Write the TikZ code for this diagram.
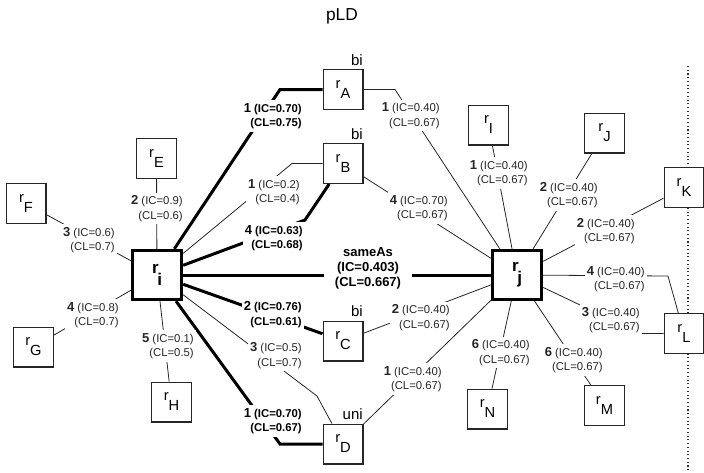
\documentclass[tikz,border=0pt]{standalone}
\usepackage{fontspec}
\setmainfont{Liberation Sans}
\pgfdeclarelayer{bg}
\pgfsetlayers{bg,main}

\tikzset{
  res/.style={draw=black!85, line width=1pt, fill=white, minimum size=29.75pt,
    inner sep=0pt, font=\fontsize{11}{12}\selectfont},
  hub/.style={draw=black, line width=2.25pt, fill=white, minimum size=37pt,
    inner sep=0pt, font=\bfseries\fontsize{12.75}{14}\selectfont},
  lab/.style={fill=white, align=right, anchor=east, inner xsep=1.5pt, inner ysep=2pt,
    font=\fontsize{8.5}{10.9}\selectfont, text=black!85},
  labb/.style={lab, font=\bfseries\fontsize{8.5}{10.9}\selectfont, text=black},
  tag/.style={anchor=base east, inner sep=0pt, font=\fontsize{11.25}{12}\selectfont},
  thinedge/.style={draw=black!85, line width=0.6pt},
  thickedge/.style={draw=black, line width=2.25pt},
}
% resource name: r with a lowered capital
\newcommand\rsub[1]{r\raisebox{-0.68em}{#1}}
% edge weight label: count, IC, CL
\newcommand\wt[3]{{\bfseries\fontsize{9.75}{10.9}\selectfont #1} (IC=#2)\\(CL=#3)}

\begin{document}
\begin{tikzpicture}[x=0.75pt,y=-0.75pt]
\useasboundingbox (0,0) rectangle (704,472);

\node[font=\fontsize{13}{15}\selectfont] (title) at (342,16) {pLD};

% central resources
\node[hub] (ri) at (157,275) {r\kern-0.08em\raisebox{-0.7em}{i}};
\node[hub] (rj) at (517,275) {r\kern-0.08em\raisebox{-0.7em}{j}};

% shared neighbours
\node[res] (rA) at (343,89.5) {\rsub{A}};
\node[res] (rB) at (343,163.5) {\rsub{B}};
\node[res] (rC) at (343,341) {\rsub{C}};
\node[res] (rD) at (343,444) {\rsub{D}};
\node[tag] (tA) at (363,65) {bi};
\node[tag] (tB) at (363,139) {bi};
\node[tag] (tC) at (363,316.5) {bi};
\node[tag] (tD) at (363,419.5) {uni};

% neighbours of r_i only
\node[res] (rE) at (156.5,158.5) {\rsub{E}};
\node[res] (rF) at (26,203.5) {\rsub{F}};
\node[res] (rG) at (33.5,347) {\rsub{G}};
\node[res] (rH) at (171.5,402) {\rsub{H}};

% neighbours of r_j only
\node[res] (rI) at (488.5,125) {\rsub{I}};
\node[res] (rJ) at (604.5,133) {\rsub{J}};
\node[res] (rK) at (684,187.5) {\rsub{K}};
\node[res] (rL) at (684,333.5) {\rsub{L}};
\node[res] (rM) at (604.5,405.5) {\rsub{M}};
\node[res] (rN) at (487.5,409) {\rsub{N}};

% bends
\coordinate (bA) at (280,89.5);
\coordinate (bB) at (292,163.5);
\coordinate (bB2) at (305,220);
\coordinate (bD) at (317,396);
\coordinate (bD2) at (280,444);
\coordinate (bAj) at (395,89.5);
\coordinate (bL) at (668,276);
\coordinate (bL2) at (640,333.5);
\coordinate (dtop) at (688,66);
\coordinate (dbot) at (688,472);

% edge labels
\node[labb] (l1) at (304,116) {\wt{1}{0.70}{0.75}};
\node[lab]  (l2) at (302,192) {\wt{1}{0.2}{0.4}};
\node[labb] (l3) at (305,238) {\wt{4}{0.63}{0.68}};
\node[labb] (l4) at (304,314.5) {\wt{2}{0.76}{0.61}};
\node[lab]  (l5) at (304,355.5) {\wt{3}{0.5}{0.7}};
\node[labb] (l6) at (304,421) {\wt{1}{0.70}{0.67}};
\node[lab]  (l7) at (185,208.5) {\wt{2}{0.9}{0.6}};
\node[lab]  (l8) at (117,240) {\wt{3}{0.6}{0.7}};
\node[lab]  (l9) at (121,315) {\wt{4}{0.8}{0.7}};
\node[lab]  (l10) at (196,346) {\wt{5}{0.1}{0.5}};
\node[lab]  (l11) at (442,115.5) {\wt{1}{0.40}{0.67}};
\node[lab]  (l12) at (450,208) {\wt{4}{0.70}{0.67}};
\node[lab]  (l13) at (452,317.5) {\wt{2}{0.40}{0.67}};
\node[lab]  (l14) at (444,379) {\wt{1}{0.40}{0.67}};
\node[lab]  (l15) at (530,173) {\wt{1}{0.40}{0.67}};
\node[lab]  (l16) at (600,195) {\wt{2}{0.40}{0.67}};
\node[lab]  (l17) at (637,231) {\wt{2}{0.40}{0.67}};
\node[lab]  (l18) at (647,279) {\wt{4}{0.40}{0.67}};
\node[lab]  (l19) at (642,320) {\wt{3}{0.40}{0.67}};
\node[lab]  (l20) at (605,360) {\wt{6}{0.40}{0.67}};
\node[lab]  (l21) at (532,352.5) {\wt{6}{0.40}{0.67}};
\node[fill=white, align=center, inner xsep=8pt, inner ysep=1pt,
  font=\bfseries\fontsize{9.75}{11.25}\selectfont] (same) at (368,268)
  {sameAs\\(IC=0.403)\\(CL=0.667)};

\begin{pgfonlayer}{bg}
  \draw[dotted, line width=0.8pt, black!80] (dtop) -- (dbot);

  % r_i side
  \draw[thickedge] (ri) -- (bA) -- (rA);
  \draw[thinedge] (ri) -- (bB) -- (rB);
  \draw[thickedge] (ri) -- (bB2) -- (rB);
  \draw[thickedge] (ri) -- (rC);
  \draw[thinedge] (ri) -- (bD) -- (rD);
  \draw[thickedge] (ri) -- (bD2) -- (rD);
  \draw[thickedge] (ri) -- (rj);
  \draw[thinedge] (rE) -- (ri);
  \draw[thinedge] (rF) -- (ri);
  \draw[thinedge] (rG) -- (ri);
  \draw[thinedge] (ri) -- (rH);

  % r_j side
  \draw[thinedge] (rA) -- (bAj) -- (rj);
  \draw[thinedge] (rB) -- (rj);
  \draw[thinedge] (rC) -- (rj);
  \draw[thinedge] (rD) -- (rj);
  \draw[thinedge] (rI) -- (rj);
  \draw[thinedge] (rj) -- (rJ);
  \draw[thinedge] (rj) -- (rK);
  \draw[thinedge] (rj) -- (bL) -- (rL);
  \draw[thinedge] (rj) -- (bL2) -- (rL);
  \draw[thinedge] (rj) -- (rM);
  \draw[thinedge] (rj) -- (rN);
\end{pgfonlayer}
\end{tikzpicture}
\end{document}
